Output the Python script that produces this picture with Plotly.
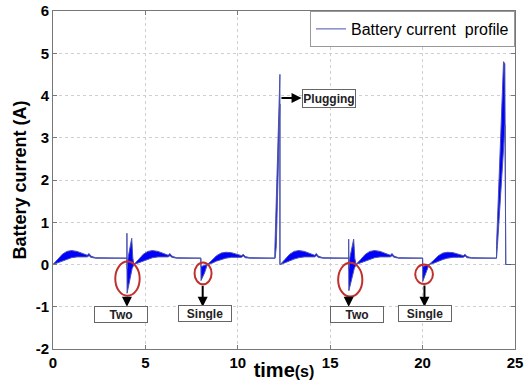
import plotly.graph_objects as go

# ---------------- data ----------------
# upper envelope of the battery-current band (time s, current A)
t_upper = [0.00, 0.25, 0.50, 0.75, 1.00, 1.30, 1.60, 1.85, 1.95, 2.05, 2.30,
           4.00, 4.00, 4.01, 4.06, 4.26, 4.32, 4.38,
           4.63, 4.88, 5.13, 5.38, 5.68, 5.98, 6.23, 6.33, 6.43, 6.68,
           8.00, 8.01, 8.35,
           8.60, 8.85, 9.10, 9.35, 9.65, 9.95, 10.20, 10.30, 10.40, 10.65,
           12.00, 12.01, 12.26, 12.28, 12.28, 12.30,
           12.55, 12.80, 13.05, 13.30, 13.60, 13.90, 14.15, 14.25, 14.35, 14.60,
           16.00, 16.00, 16.01, 16.06, 16.27, 16.33, 16.40,
           16.65, 16.90, 17.15, 17.40, 17.70, 18.00, 18.25, 18.35, 18.45, 18.70,
           20.00, 20.01, 20.35,
           20.60, 20.85, 21.10, 21.35, 21.65, 21.95, 22.20, 22.30, 22.40, 22.65,
           24.00, 24.00, 24.38, 24.45, 24.47, 24.50, 25.00]
i_upper = [0.00, 0.12, 0.24, 0.31, 0.33, 0.31, 0.26, 0.22, 0.26, 0.20, 0.16,
           0.15, 0.74, -0.10, 0.15, 0.62, 0.15, 0.00,
           0.12, 0.24, 0.31, 0.33, 0.31, 0.26, 0.22, 0.26, 0.20, 0.16,
           0.15, -0.05, 0.00,
           0.10, 0.21, 0.27, 0.29, 0.28, 0.24, 0.21, 0.24, 0.19, 0.16,
           0.15, 0.42, 4.35, 4.50, 0.00, 0.00,
           0.12, 0.24, 0.31, 0.33, 0.31, 0.26, 0.22, 0.26, 0.20, 0.16,
           0.15, 0.60, -0.10, 0.15, 0.60, 0.15, 0.00,
           0.12, 0.24, 0.31, 0.33, 0.31, 0.26, 0.22, 0.26, 0.20, 0.16,
           0.15, -0.05, 0.00,
           0.10, 0.21, 0.27, 0.29, 0.28, 0.24, 0.21, 0.24, 0.19, 0.16,
           0.15, 0.45, 4.80, 4.75, 3.30, 0.00, 0.00]

# lower envelope of the band
t_lower = [0.00, 0.25, 0.50, 0.75, 1.00, 1.30, 1.60, 1.85, 1.95, 2.05, 2.30,
           4.00, 4.01, 4.15, 4.28, 4.38,
           4.63, 4.88, 5.13, 5.38, 5.68, 5.98, 6.23, 6.33, 6.43, 6.68,
           8.00, 8.01, 8.20, 8.35,
           8.60, 8.85, 9.10, 9.35, 9.65, 9.95, 10.20, 10.30, 10.40, 10.65,
           12.00, 12.02, 12.08, 12.28, 12.28, 12.30,
           12.55, 12.80, 13.05, 13.30, 13.60, 13.90, 14.15, 14.25, 14.35, 14.60,
           16.00, 16.01, 16.15, 16.30, 16.40,
           16.65, 16.90, 17.15, 17.40, 17.70, 18.00, 18.25, 18.35, 18.45, 18.70,
           20.00, 20.01, 20.20, 20.35,
           20.60, 20.85, 21.10, 21.35, 21.65, 21.95, 22.20, 22.30, 22.40, 22.65,
           24.00, 24.05, 24.46, 24.50, 25.00]
i_lower = [0.00, 0.04, 0.09, 0.13, 0.16, 0.18, 0.18, 0.18, 0.21, 0.17, 0.15,
           0.15, -0.68, -0.35, -0.10, 0.00,
           0.04, 0.09, 0.13, 0.16, 0.18, 0.18, 0.18, 0.21, 0.17, 0.15,
           0.15, -0.38, -0.20, 0.00,
           0.03, 0.08, 0.12, 0.15, 0.17, 0.17, 0.17, 0.20, 0.16, 0.15,
           0.15, 0.15, 0.42, 3.80, 0.00, 0.00,
           0.04, 0.09, 0.13, 0.16, 0.18, 0.18, 0.18, 0.21, 0.17, 0.15,
           0.15, -0.62, -0.33, -0.10, 0.00,
           0.04, 0.09, 0.13, 0.16, 0.18, 0.18, 0.18, 0.21, 0.17, 0.15,
           0.15, -0.40, -0.20, 0.00,
           0.03, 0.08, 0.12, 0.15, 0.17, 0.17, 0.17, 0.20, 0.16, 0.15,
           0.15, 0.45, 3.30, 0.00, 0.00]

# event annotations
event_labels = ["Two", "Single", "Two", "Single"]
event_time = [4.0, 8.1, 16.0, 20.1]            # arrow x
ellipse_x0 = [3.37, 7.66, 15.43, 19.60]
ellipse_x1 = [4.69, 8.58, 16.74, 20.56]
ellipse_y0 = [-0.74, -0.47, -0.76, -0.46]
ellipse_y1 = [0.07, 0.05, 0.04, 0.00]
box_x = [3.70, 8.24, 16.46, 20.13]
box_y = [-1.19, -1.17, -1.19, -1.17]

plug_label = "Plugging"
plug_from = (12.28, 3.94)
plug_to = (13.45, 3.94)
plug_box = (14.95, 3.94)

x_ticks = [0, 5, 10, 15, 20, 25]
x_ticktext = ["0", "5", "10", "15", "20", "25"]
y_ticks = [-2, -1, 0, 1, 2, 3, 4, 5, 6]
y_ticktext = ["-2", "-1", "0", "1", "2", "3", "4", "5", "6"]

# ---------------- figure ----------------
LINE = "#4b52ad"
FILL = "#0000ff"
RED = "#c0302c"

fig = go.Figure()
fig.add_trace(go.Scatter(x=t_lower, y=i_lower, mode="lines",
                         line=dict(color=LINE, width=1),
                         name="Battery current\u00a0 profile", showlegend=True))
fig.add_trace(go.Scatter(x=t_upper, y=i_upper, mode="lines",
                         line=dict(color=LINE, width=1),
                         fill="tonexty", fillcolor=FILL, showlegend=False))

shapes = []
for a, b, c, d in zip(ellipse_x0, ellipse_x1, ellipse_y0, ellipse_y1):
    shapes.append(dict(type="circle", xref="x", yref="y", x0=a, x1=b, y0=c, y1=d,
                       line=dict(color=RED, width=2)))

annotations = []
for lab, tx, ey, bx, by in zip(event_labels, event_time, ellipse_y0, box_x, box_y):
    annotations.append(dict(x=tx, y=-1.0, ax=tx, ay=ey, xref="x", yref="y",
                            axref="x", ayref="y", text="", showarrow=True,
                            arrowhead=2, arrowsize=1, arrowwidth=2, arrowcolor="black"))
    annotations.append(dict(x=bx, y=by, xref="x", yref="y", text="<b>%s</b>" % lab,
                            showarrow=False, bordercolor="#666", borderwidth=1,
                            bgcolor="white", width=50, height=13, borderpad=1,
                            font=dict(family="Liberation Sans", size=12, color="#222")))
annotations.append(dict(x=plug_to[0], y=plug_to[1], ax=plug_from[0], ay=plug_from[1],
                        xref="x", yref="y", axref="x", ayref="y", text="",
                        showarrow=True, arrowhead=2, arrowsize=1, arrowwidth=2,
                        arrowcolor="black"))
annotations.append(dict(x=plug_box[0], y=plug_box[1], xref="x", yref="y",
                        text="<b>%s</b>" % plug_label, showarrow=False,
                        bordercolor="#666", borderwidth=1, bgcolor="white",
                        width=50, height=15, borderpad=1,
                        font=dict(family="Liberation Sans", size=12, color="#222")))

axis_common = dict(showline=True, linecolor="#777", linewidth=1, mirror="ticks",
                   ticks="inside", ticklen=4, tickcolor="#777",
                   showgrid=True, gridcolor="#cfcfcf", griddash="dot", gridwidth=1,
                   zeroline=False, automargin=False,
                   tickfont=dict(family="Liberation Sans", size=15, color="black",
                                 weight="bold"))

fig.update_layout(
    width=531, height=381,
    margin=dict(l=53, r=16, t=11, b=32),
    paper_bgcolor="white", plot_bgcolor="white",
    shapes=shapes, annotations=annotations,
    legend=dict(x=1, y=1, xanchor="right", yanchor="top",
                bordercolor="#999", borderwidth=1, bgcolor="white",
                font=dict(family="Liberation Sans", size=16, color="black"),
                itemwidth=30, tracegroupgap=0),
    xaxis=dict(range=[0, 25], tickvals=x_ticks, ticktext=x_ticktext,
               title=dict(text="time<span style='font-size:16px'>(s)</span>",
                          font=dict(family="Liberation Sans", size=20, color="black",
                                    weight="bold"), standoff=0),
               **axis_common),
    yaxis=dict(range=[-2, 6], tickvals=y_ticks, ticktext=y_ticktext,
               title=dict(text="Battery current (A)",
                          font=dict(family="Liberation Sans", size=18, color="black",
                                    weight="bold"), standoff=4),
               **axis_common),
)

fig.write_html("out.html")
